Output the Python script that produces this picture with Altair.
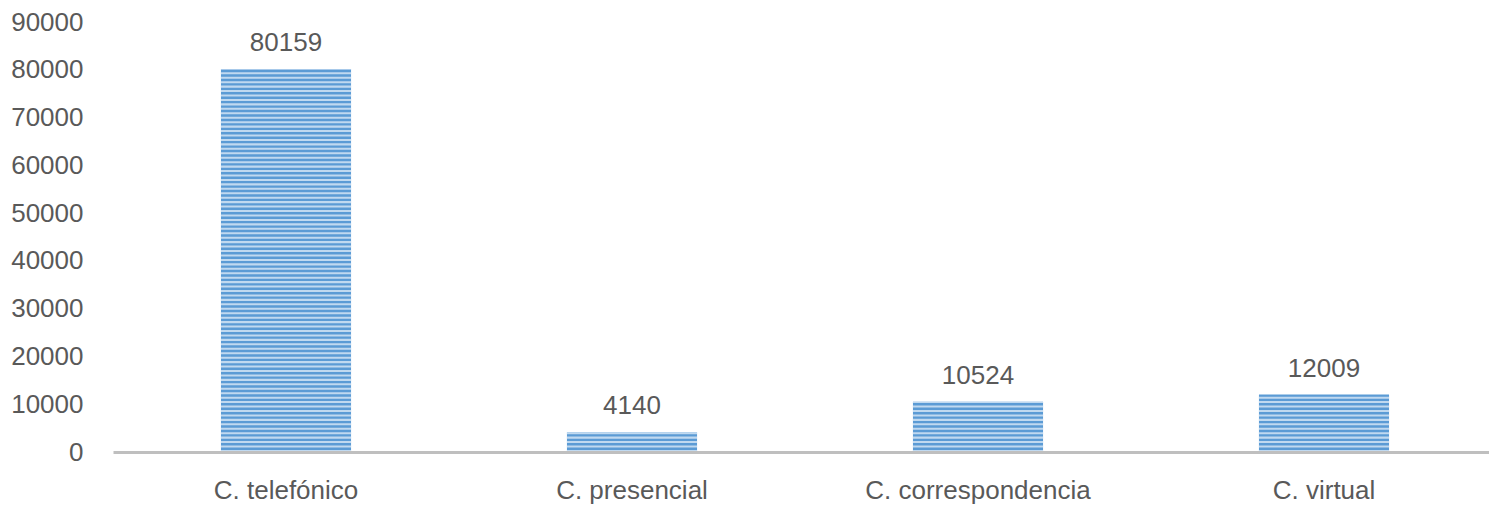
import altair as alt
import pandas as pd

categories = ["C. telefónico", "C. presencial", "C. correspondencia", "C. virtual"]
values = [80159, 4140, 10524, 12009]
y_ticks = [0, 10000, 20000, 30000, 40000, 50000, 60000, 70000, 80000, 90000]

df = pd.DataFrame({"cat": categories, "value": values})

TEXT = "#595959"
FONT = "Liberation Sans"
FS = 26

x_scale = alt.Scale(domain=categories, range=[0, 1384], paddingInner=0.624, paddingOuter=0.312)
y_scale = alt.Scale(domain=[0, 90000], nice=False, zero=True)

x_enc = alt.X(
    "cat:N", scale=x_scale, sort=categories,
    axis=alt.Axis(title=None, labelAngle=0, ticks=False, domainColor="#BFBFBF",
                  domainWidth=3, labelFontSize=FS, labelColor=TEXT, labelFont=FONT,
                  labelPadding=25, labelLimit=0, zindex=1, grid=False),
)
y_enc = alt.Y(
    "value:Q", scale=y_scale,
    axis=alt.Axis(title=None, values=y_ticks, format="d", ticks=False, domain=False,
                  grid=False, labelFontSize=FS, labelColor=TEXT, labelFont=FONT,
                  labelPadding=30),
)

base = alt.Chart(df)

bars = base.mark_bar(color="#5B9BD5").encode(x=x_enc, y=y_enc)

stripes = base.transform_calculate(
    s="sequence(0, datum.value, 930)"
).transform_flatten(["s"]).transform_calculate(
    s2="min(datum.s + 430, datum.value)"
).mark_bar(color="#D2E4F5", opacity=0.85).encode(
    x=alt.X("cat:N", scale=x_scale, sort=categories),
    y=alt.Y("s:Q", scale=y_scale),
    y2="s2:Q",
)

labels = base.mark_text(
    baseline="alphabetic", dy=-18, fontSize=FS, color=TEXT, font=FONT
).encode(
    x=alt.X("cat:N", scale=x_scale, sort=categories),
    y=alt.Y("value:Q", scale=y_scale),
    text="value:Q",
)

chart = alt.layer(bars, stripes, labels).properties(
    width=1376, height=430,
    autosize=alt.AutoSizeParams(type="none"),
    padding={"left": 113, "top": 22, "right": 0, "bottom": 53},
).configure(background="white").configure_view(stroke=None, strokeWidth=0)

chart.save("out.html", embed_options={"renderer": "svg", "actions": False})
